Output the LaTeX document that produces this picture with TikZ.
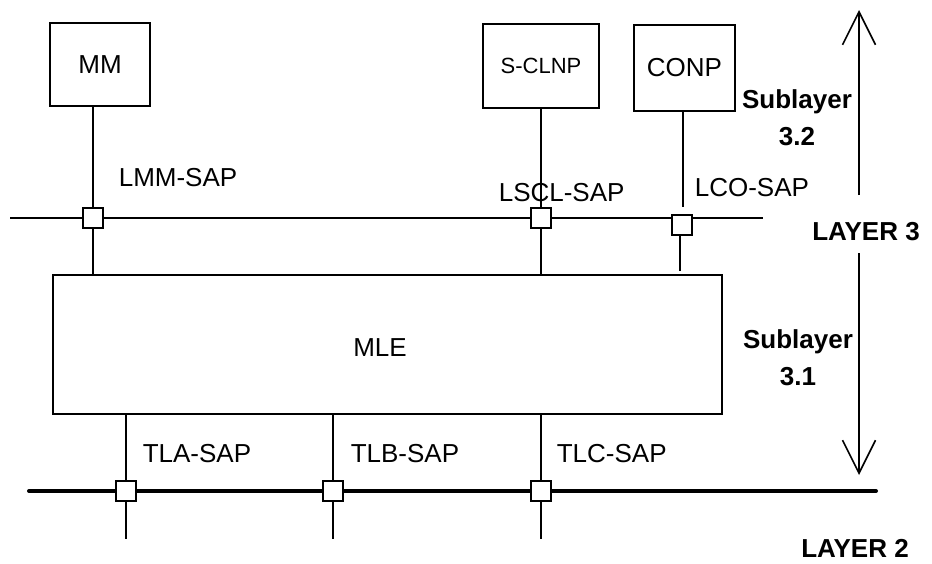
\documentclass[tikz,border=0pt]{standalone}
\usepackage{fontspec}
\setmainfont{Liberation Sans}
\usetikzlibrary{arrows.meta}
\begin{document}
\begin{tikzpicture}[x=0.75pt,y=-0.75pt,line width=1.2pt,
  every node/.style={font=\fontsize{19.5}{23}\selectfont},
  box/.style={draw,line width=1.2pt,inner sep=0pt},
  sap/.style={draw,fill=white,line width=1.2pt,minimum size=15pt,inner sep=0pt},
  saplabel/.style={anchor=west,inner sep=0pt},
  layerlabel/.style={align=center,inner sep=0pt,font=\fontsize{19.5}{27.75}\selectfont\bfseries},
  bus/.style={line width=1.2pt},
  thickbus/.style={line width=3pt,line cap=round},
  layerarrow/.style={line width=1.2pt,-{Straight Barb[length=24.75pt,width=24.75pt,line width=1.2pt]}}]
\useasboundingbox (0,0) rectangle (932,564);

% boxes
\node[box,minimum width=75pt,minimum height=62.25pt] (mm) at (100,64.5) {MM};
\node[box,minimum width=87pt,minimum height=63pt,font=\fontsize{16.5}{20}\selectfont] (sclnp) at (541,66) {S-CLNP};
\node[box,minimum width=75.75pt,minimum height=64.5pt] (conp) at (684.5,68) {CONP};
\node[box,minimum width=501.75pt,minimum height=104.25pt] (mle) at (387.5,344.5) {};
\node (mletext) at (380,348) {MLE};

% buses
\coordinate (ub1) at (10,218);
\coordinate (ub2) at (763,218);
\draw[bus] (ub1) -- (ub2);
\coordinate (lb1) at (29,491);
\coordinate (lb2) at (876,491);
\draw[thickbus] (lb1) -- (lb2);

% upper SAPs
\node[sap] (s1) at (93,218) {};
\node[sap] (s2) at (541,218) {};
\node[sap] (s3) at (682,225) {};
\draw (mm.south -| s1) -- (s1.north);
\draw (s1.south) -- (s1 |- mle.north);
\draw (sclnp.south -| s2) -- (s2.north);
\draw (s2.south) -- (s2 |- mle.north);
\coordinate (c3a) at (683,207);
\draw (conp.south -| c3a) -- (c3a);
\coordinate (c3b) at (680,235);
\coordinate (c3c) at (680,271);
\draw (c3b) -- (c3c);

% lower SAPs
\node[sap] (t1) at (126,491) {};
\node[sap] (t2) at (333,491) {};
\node[sap] (t3) at (541,491) {};
\coordinate (e1) at (126,539);
\coordinate (e2) at (333,539);
\coordinate (e3) at (541,539);
\draw (mle.south -| t1) -- (t1.north) (t1.south) -- (e1);
\draw (mle.south -| t2) -- (t2.north) (t2.south) -- (e2);
\draw (mle.south -| t3) -- (t3.north) (t3.south) -- (e3);

% SAP labels
\node[saplabel] (lmm) at (118,178) {LMM-SAP};
\node[saplabel] (lscl) at (498,193) {LSCL-SAP};
\node[saplabel] (lco) at (694,188) {LCO-SAP};
\node[saplabel] (tla) at (142,454) {TLA-SAP};
\node[saplabel] (tlb) at (350,454) {TLB-SAP};
\node[saplabel] (tlc) at (556,454) {TLC-SAP};

% layer labels and arrows
\node[layerlabel] (sub32) at (797,118) {Sublayer\\3.2};
\node[layerlabel] (sub31) at (798,358) {Sublayer\\3.1};
\node[layerlabel] (l3) at (866,232) {LAYER 3};
\node[layerlabel] (l2) at (855,548) {LAYER 2};
\coordinate (a1s) at (859,195);
\coordinate (a1e) at (859,10);
\coordinate (a2s) at (859,253);
\coordinate (a2e) at (859,475);
\draw[layerarrow] (a1s) -- (a1e);
\draw[layerarrow] (a2s) -- (a2e);
\end{tikzpicture}
\end{document}
